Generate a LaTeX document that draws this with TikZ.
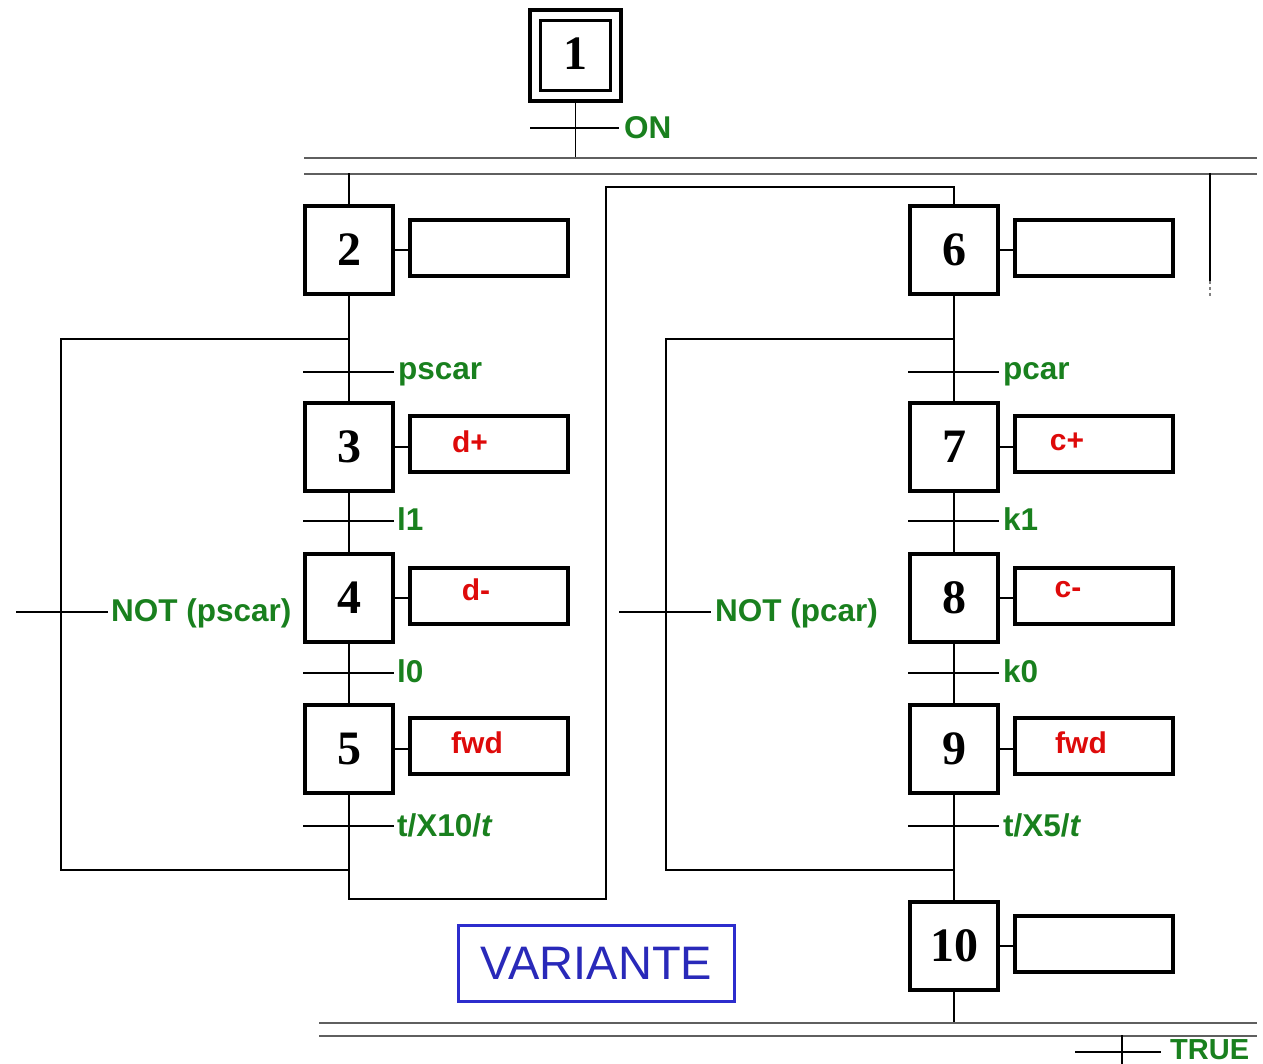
\documentclass[tikz,border=0pt]{standalone}
\usepackage{fontspec}
\setmainfont{Liberation Serif}
\setsansfont{Liberation Sans}
\definecolor{sfcgreen}{RGB}{25,128,30}
\definecolor{sfcred}{RGB}{222,10,10}
\definecolor{sfcblue}{RGB}{45,45,205}
\definecolor{bargray}{RGB}{95,95,95}
\begin{document}
\begin{tikzpicture}[x=1pt,y=-1pt,
  stepbox/.style={draw, line width=3.6pt, minimum width=88pt, minimum height=88pt, inner sep=0pt,
    font=\fontsize{48}{50}\selectfont\bfseries},
  actbox/.style={draw, line width=3.6pt, minimum width=158pt, minimum height=56pt, inner sep=0pt},
  link/.style={line width=1.6pt, line cap=rect},
  bar/.style={line width=2.8pt, bargray},
  cond/.style={anchor=west, inner sep=0pt, text=sfcgreen, text height=22pt, text depth=0pt,
    font=\sffamily\bfseries\fontsize{31.5}{33}\selectfont},
  act/.style={inner sep=0pt, text=sfcred, font=\sffamily\bfseries\fontsize{30}{32}\selectfont}]
\useasboundingbox (0,0) rectangle (1263,1064);

% ---------- step 1 ----------
\node[draw, line width=3.6pt, minimum width=91pt, minimum height=91pt] (s1) at (575.5,55.5) {};
\node[stepbox, minimum width=70pt, minimum height=70pt] (s1in) at (575.5,55.5) {\raisebox{4pt}{1}};
\coordinate (b1) at (575.5,158);
\draw[link] (s1.south) -- (b1);
\coordinate (tON1) at (531,128); \coordinate (tON2) at (618,128);
\draw[link] (tON1) -- (tON2);
\node[cond] (lON) at (624,128) {ON};

% ---------- top double bar ----------
\coordinate (bt1) at (304,158); \coordinate (bt2) at (1257,158);
\coordinate (bb1) at (304,174); \coordinate (bb2) at (1257,174);
\draw[bar] (bt1) -- (bt2);
\draw[bar] (bb1) -- (bb2);

% right stub
\coordinate (r1) at (1210,174); \coordinate (r2) at (1210,281); \coordinate (r3) at (1210,296);
\draw[link] (r1) -- (r2);
\draw[line width=2.2pt, gray, dash pattern=on 3pt off 3pt] (r2) -- (r3);

% ---------- left sequence ----------
\node[stepbox] (s2) at (349,250) {2};
\node[stepbox] (s3) at (349,447) {3};
\node[stepbox] (s4) at (349,598) {4};
\node[stepbox] (s5) at (349,749) {5};
\node[actbox] (a2) at (489,248) {};
\node[actbox] (a3) at (489,444) {};
\node[actbox] (a4) at (489,596) {};
\node[actbox] (a5) at (489,746) {};
\node[act] (x3) at (470,442) {d+};
\node[act] (x4) at (476,590) {d-};
\node[act] (x5) at (477,743) {fwd};
\foreach \i in {2,3,4,5} {\draw[link] (s\i.east) -- (a\i.west |- s\i.east);}

\coordinate (c2) at (349,174);
\draw[link] (c2) -- (s2.north);
\draw[link] (s2.south) -- (s3.north);
\draw[link] (s3.south) -- (s4.north);
\draw[link] (s4.south) -- (s5.north);

% transitions left
\foreach \n/\y in {p/372, a/521, b/673, c/826} {
  \coordinate (tl\n1) at (304,\y); \coordinate (tl\n2) at (393,\y);
  \draw[link] (tl\n1) -- (tl\n2);
}
\node[cond] (lpscar) at (398,368) {pscar};
\node[cond] (ll1) at (397,519) {l1};
\node[cond] (ll0) at (397,671) {l0};
\node[cond] (lt10) at (397,825) {t/X10/\textit{t}};

% left skip loop
\coordinate (L1) at (349,339); \coordinate (L2) at (61,339);
\coordinate (L3) at (61,870);  \coordinate (L4) at (349,870);
\draw[link] (L1) -- (L2) -- (L3) -- (L4);
\coordinate (tn1) at (17,612); \coordinate (tn2) at (107,612);
\draw[link] (tn1) -- (tn2);
\node[cond] (lnps) at (111,610) {NOT (pscar)};

% ---------- right sequence ----------
\node[stepbox] (s6) at (954,250) {6};
\node[stepbox] (s7) at (954,447) {7};
\node[stepbox] (s8) at (954,598) {8};
\node[stepbox] (s9) at (954,749) {9};
\node[stepbox] (s10) at (954,946) {10};
\node[actbox] (a6) at (1094,248) {};
\node[actbox] (a7) at (1094,444) {};
\node[actbox] (a8) at (1094,596) {};
\node[actbox] (a9) at (1094,746) {};
\node[actbox] (a10) at (1094,944) {};
\node[act] (x7) at (1067,442) {c+};
\node[act] (x8) at (1068,590) {c-};
\node[act] (x9) at (1081,743) {fwd};
\foreach \i in {6,7,8,9,10} {\draw[link] (s\i.east) -- (a\i.west |- s\i.east);}

% link from left branch to right branch
\coordinate (j1) at (349,899); \coordinate (j2) at (606,899);
\coordinate (j3) at (606,187); \coordinate (j4) at (954,187);
\draw[link] (s5.south) -- (j1) -- (j2) -- (j3) -- (j4) -- (s6.north);

\draw[link] (s6.south) -- (s7.north);
\draw[link] (s7.south) -- (s8.north);
\draw[link] (s8.south) -- (s9.north);
\draw[link] (s9.south) -- (s10.north);

\foreach \n/\y in {p/372, a/521, b/673, c/826} {
  \coordinate (tr\n1) at (909,\y); \coordinate (tr\n2) at (998,\y);
  \draw[link] (tr\n1) -- (tr\n2);
}
\node[cond] (lpcar) at (1003,368) {pcar};
\node[cond] (lk1) at (1003,519) {k1};
\node[cond] (lk0) at (1003,671) {k0};
\node[cond] (lt5) at (1003,825) {t/X5/\textit{t}};

% right skip loop
\coordinate (R1) at (954,339); \coordinate (R2) at (666,339);
\coordinate (R3) at (666,870); \coordinate (R4) at (954,870);
\draw[link] (R1) -- (R2) -- (R3) -- (R4);
\coordinate (tm1) at (620,612); \coordinate (tm2) at (710,612);
\draw[link] (tm1) -- (tm2);
\node[cond] (lnpc) at (715,610) {NOT (pcar)};

% ---------- bottom double bar ----------
\coordinate (e1) at (954,1023);
\draw[link] (s10.south) -- (e1);
\coordinate (dt1) at (319,1023); \coordinate (dt2) at (1257,1023);
\coordinate (db1) at (319,1036); \coordinate (db2) at (1257,1036);
\draw[bar] (dt1) -- (dt2);
\draw[bar] (db1) -- (db2);
\coordinate (f1) at (1122,1036); \coordinate (f2) at (1122,1064);
\draw[link] (f1) -- (f2);
\coordinate (tt1) at (1076,1052); \coordinate (tt2) at (1160,1052);
\draw[link] (tt1) -- (tt2);
\node[cond, font=\sffamily\bfseries\fontsize{29}{31}\selectfont, text height=20pt] (lTRUE) at (1170,1049) {TRUE};

% ---------- VARIANTE ----------
\node[draw=sfcblue, line width=3.2pt, minimum width=276pt, minimum height=76pt, inner sep=0pt,
  text=sfcblue!90!black, font=\sffamily\fontsize{47}{50}\selectfont] (var) at (596.5,963.5) {VARIANTE};
\end{tikzpicture}
\end{document}
